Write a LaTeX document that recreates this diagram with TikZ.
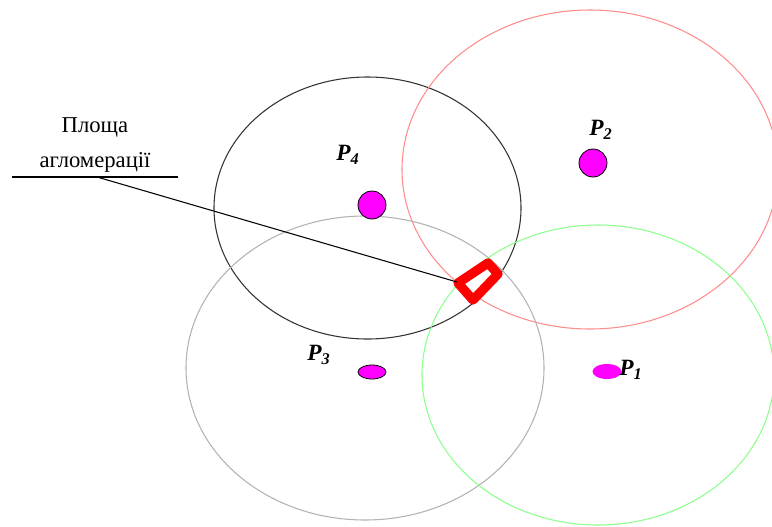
\documentclass[tikz,border=0pt]{standalone}
\usepackage{fontspec}
\setmainfont{Liberation Serif}
\definecolor{pmag}{RGB}{255,0,255}
\definecolor{zred}{RGB}{255,0,0}
\begin{document}
\begin{tikzpicture}[x=0.75pt,y=-0.75pt,
  zone/.style={line width=0.8pt},
  dot/.style={draw=black,fill=pmag,line width=0.6pt},
  plabel/.style={font=\fontsize{17.5}{20}\selectfont\bfseries\itshape,inner sep=0pt},
  txt/.style={font=\fontsize{17}{26}\selectfont,align=center,inner sep=0pt}]
\useasboundingbox (0,0) rectangle (772,526);
% circles
\draw[zone,draw=black!80] (367.5,208) ellipse [x radius=153.5, y radius=131];
\draw[zone,draw=red!45] (590,169.5) ellipse [x radius=188, y radius=159.5];
\draw[zone,draw=black!30] (365,368) ellipse [x radius=179, y radius=152];
\draw[zone,draw=green!45] (598,375) ellipse [x radius=176, y radius=150];
% dots
\node[dot,circle,minimum size=21pt,inner sep=0pt] (d4) at (372,205) {};
\node[dot,circle,minimum size=21pt,inner sep=0pt] (d2) at (593,163) {};
\draw[dot] (372,372) ellipse [x radius=14, y radius=7];
\fill[pmag] (607,371.5) ellipse [x radius=14.5, y radius=7.5];
% labels
\node[plabel] (p4) at (348,155) {P\textsubscript{4}};
\node[plabel] (p2) at (601,130) {P\textsubscript{2}};
\node[plabel] (p3) at (319,355) {P\textsubscript{3}};
\node[plabel] (p1) at (631,370) {P\textsubscript{1}};
% agglomeration zone
\draw[zred,line width=7pt,line join=round] (458,283) -- (488,263) -- (498,274) -- (473,300) -- cycle;
\coordinate (tip) at (457,282);
% text and leader
\node[txt] (lbl) at (95,145) {Площа\\агломерації};
\coordinate (hl) at (12,177);
\coordinate (hr) at (178,177);
\coordinate (hs) at (97,177);
\draw[line width=0.8pt] (hl) -- (hr);
\draw[line width=0.8pt] (hs) -- (tip);
\end{tikzpicture}
\end{document}
